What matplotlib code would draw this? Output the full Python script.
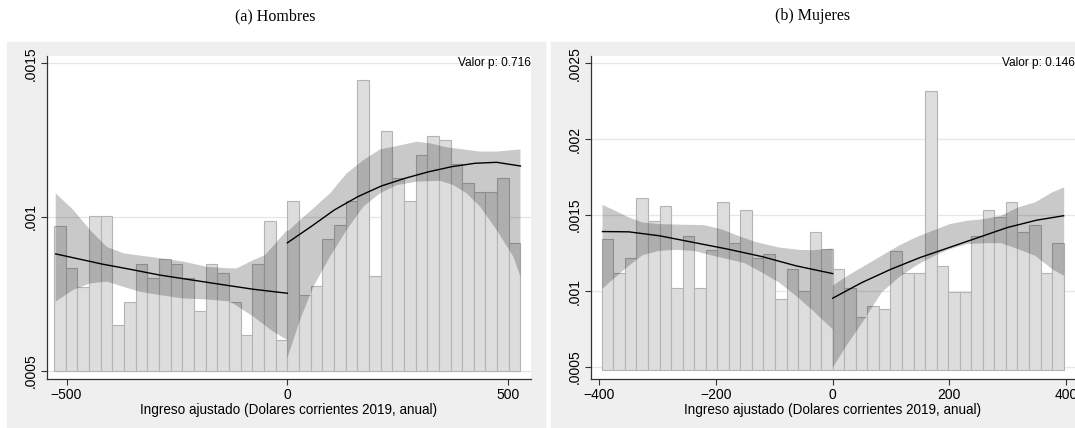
import numpy as np
import matplotlib.pyplot as plt
from matplotlib.patches import Rectangle

plt.rcParams['font.family'] = ['Liberation Sans', 'DejaVu Sans']

# ---- datos panel (a) Hombres ----
h_bin_inicio = -528
h_bin_ancho = 26.4
h_densidad = [0.000972, 0.000833, 0.000771, 0.001002, 0.001002, 0.000648, 0.000724,
              0.000848, 0.000802, 0.000863, 0.000848, 0.000802, 0.000694, 0.000848,
              0.000817, 0.000724, 0.000616, 0.000848, 0.000986, 0.000601,
              0.001051, 0.000745, 0.000777, 0.000928, 0.000975, 0.001051, 0.001447,
              0.000807, 0.001279, 0.001127, 0.001051, 0.001203, 0.001264, 0.00125,
              0.001171, 0.001112, 0.001081, 0.001081, 0.001127, 0.000914]

h_izq_x = [-524.5, -419.6, -356, -288.3, -156.2, -77, 0]
h_izq_y = [0.00088, 0.000847, 0.00083, 0.000811, 0.000782, 0.000765, 0.000752]
h_izq_sup_x = [-524.5, -484.5, -446.8, -409, -371.3, -341.1, -288.3, -235.4, -182.6,
               -129.8, -114.7, -76.9, -50.5, 0]
h_izq_sup_y = [0.001077, 0.001023, 0.000958, 0.000903, 0.000882, 0.000876, 0.000866,
               0.000855, 0.000838, 0.000833, 0.000833, 0.00086, 0.000876, 0.000958]
h_izq_inf_x = [-524.5, -484.5, -446.8, -409, -371.3, -333.6, -288.3, -235.4, -182.6,
               -129.8, -76.9, -31.7, 0]
h_izq_inf_y = [0.000725, 0.000763, 0.000784, 0.00079, 0.000773, 0.000757, 0.000746,
               0.000735, 0.000732, 0.000725, 0.000676, 0.000627, 0.0006]

h_der_x = [0, 52.9, 106.5, 159.3, 212.9, 266.5, 319.4, 373, 425.8, 474.2, 528]
h_der_y = [0.000916, 0.000968, 0.001023, 0.001066, 0.001101, 0.001126, 0.001147,
           0.001164, 0.001175, 0.001178, 0.001166]
h_der_sup_x = [0, 28.8, 58.9, 96.7, 134.4, 172.2, 209.9, 247.7, 293, 323.2, 360.9,
               398.6, 436.4, 474.1, 528]
h_der_sup_y = [0.000952, 0.00099, 0.001028, 0.001077, 0.001142, 0.001185, 0.00122,
               0.001231, 0.001245, 0.00124, 0.001227, 0.00122, 0.001213, 0.001213, 0.00122]
h_der_inf_x = [0, 28.8, 58.9, 96.7, 134.4, 172.2, 209.9, 247.7, 293, 345.8, 376,
               406.2, 436.4, 474.1, 511.9, 528]
h_der_inf_y = [0.00054, 0.000665, 0.000773, 0.000871, 0.000958, 0.001034, 0.001077,
               0.001104, 0.001115, 0.001118, 0.001104, 0.001077, 0.001034, 0.000958,
               0.000871, 0.000806]

# ---- datos panel (b) Mujeres ----
m_bin_inicio = -396
m_bin_ancho = 19.8
m_densidad = [0.001342, 0.001122, 0.001221, 0.00161, 0.001463, 0.001562, 0.001023,
              0.001364, 0.001023, 0.001271, 0.001584, 0.001315, 0.001535, 0.001221,
              0.001243, 0.000951, 0.001144, 0.001001, 0.00139, 0.00128,
              0.001144, 0.001023, 0.00083, 0.000902, 0.00088, 0.001265, 0.001122,
              0.001122, 0.002315, 0.001166, 0.000997, 0.000997, 0.001364, 0.001535,
              0.001485, 0.001584, 0.00139, 0.001438, 0.001122, 0.001315]

m_izq_x = [-394.8, -349.7, -297, -238.4, -179.8, -121.2, -62.7, 0]
m_izq_y = [0.001392, 0.00139, 0.001364, 0.00132, 0.001276, 0.001227, 0.001166, 0.001115]
m_izq_sup_x = [-394.8, -373.1, -349.7, -326.2, -297, -267.7, -220.8, -191.5, -162.2,
               -133, -92, -56.8, -33.4, 0]
m_izq_sup_y = [0.001568, 0.001529, 0.001485, 0.001452, 0.001441, 0.001438, 0.001434,
               0.001408, 0.001364, 0.001324, 0.001287, 0.001271, 0.001269, 0.00128]
m_izq_inf_x = [-394.8, -373.1, -349.7, -326.2, -297, -267.7, -238.4, -209.1, -179.8,
               -150.5, -121.2, -92, -62.7, -33.4, 0]
m_izq_inf_y = [0.001016, 0.001089, 0.001166, 0.001236, 0.001265, 0.001271, 0.001265,
               0.001236, 0.00121, 0.001183, 0.001122, 0.001056, 0.000968, 0.000869, 0.000748]

m_der_x = [0, 50, 100, 150, 200, 250, 300, 350, 396]
m_der_y = [0.000953, 0.001056, 0.001144, 0.001221, 0.001287, 0.001353, 0.001419,
           0.001467, 0.001496]
m_der_ci_x = [0, 25.2, 54.5, 83.8, 113, 142.3, 171.6, 200.9, 230.2, 259.5, 288.8,
              318, 347.3, 376.6, 397]
m_der_sup_y = [0.001034, 0.0011, 0.001166, 0.001232, 0.001298, 0.001353, 0.001397,
               0.001441, 0.001463, 0.001474, 0.001496, 0.001551, 0.001584, 0.00165, 0.001683]
m_der_inf_y = [0.000496, 0.000649, 0.000814, 0.00099, 0.001089, 0.001166, 0.001227,
               0.001276, 0.001309, 0.001315, 0.001315, 0.001276, 0.001232, 0.001144, 0.0011]

etiqueta_x = 'Ingreso ajustado (Dolares corrientes 2019, anual)'


def panel(ax, inicio, ancho, dens, base, tramos, yticks, ylab, xticks, xlim, ylim, pval):
    bordes = inicio + ancho * np.arange(len(dens))
    ax.bar(bordes, np.array(dens) - base, width=ancho, bottom=base, align='edge',
           color='#dddddd', edgecolor='#b4b4b4', linewidth=0.8, zorder=2)
    for (lx, ly, sx, sy, ix, iy) in tramos:
        px = list(sx) + list(ix)[::-1]
        py = list(sy) + list(iy)[::-1]
        ax.fill(px, py, color='black', alpha=0.21, lw=0, zorder=3)
        ax.plot(lx, ly, color='black', lw=1.0, zorder=4)
    ax.set_xlim(*xlim)
    ax.set_ylim(*ylim)
    ax.set_yticks(yticks)
    ax.set_yticklabels(ylab, rotation=90, va='center')
    ax.set_xticks(xticks)
    ax.grid(axis='y', color='#e6e6e6', lw=0.9, zorder=0)
    ax.set_axisbelow(True)
    for s in ['top', 'right']:
        ax.spines[s].set_visible(False)
    for s in ['left', 'bottom']:
        ax.spines[s].set_color('#333333')
        ax.spines[s].set_linewidth(0.9)
    ax.tick_params(direction='out', length=4.5, width=0.8, color='#333333',
                   labelsize=10, pad=2)
    ax.set_xlabel(etiqueta_x, fontsize=9.75, labelpad=1)
    ax.text(1.0, yticks[-1], 'Valor p: ' + pval, transform=ax.get_yaxis_transform(),
            ha='right', va='center', fontsize=8.6, zorder=5)


fig = plt.figure(figsize=(10.75, 4.28), dpi=100)
fig.add_artist(Rectangle((0.0062, 0), 0.5008, 0.9019, transform=fig.transFigure,
                         color='#efefef', zorder=-5))
fig.add_artist(Rectangle((0.5126, 0), 0.4874, 0.9019, transform=fig.transFigure,
                         color='#efefef', zorder=-5))

ax1 = fig.add_axes([0.0434, 0.1145, 0.4502, 0.7547])
ax2 = fig.add_axes([0.5495, 0.1145, 0.4502, 0.7547])

panel(ax1, h_bin_inicio, h_bin_ancho, h_densidad, 0.0005,
      [(h_izq_x, h_izq_y, h_izq_sup_x, h_izq_sup_y, h_izq_inf_x, h_izq_inf_y),
       (h_der_x, h_der_y, h_der_sup_x, h_der_sup_y, h_der_inf_x, h_der_inf_y)],
      [0.0005, 0.001, 0.0015], ['.0005', '.001', '.0015'],
      [-500, 0, 500], (-545, 551), (0.000473, 0.001524), '0.716')

panel(ax2, m_bin_inicio, m_bin_ancho, m_densidad, 0.00048,
      [(m_izq_x, m_izq_y, m_izq_sup_x, m_izq_sup_y, m_izq_inf_x, m_izq_inf_y),
       (m_der_x, m_der_y, m_der_ci_x, m_der_sup_y, m_der_ci_x, m_der_inf_y)],
      [0.0005, 0.001, 0.0015, 0.002, 0.0025], ['.0005', '.001', '.0015', '.002', '.0025'],
      [-400, -200, 0, 200, 400], (-415, 415), (0.000421, 0.002548), '0.146')

fig.text(275 / 1075, 1 - 16 / 428, '(a) Hombres', ha='center', va='center',
         family='Liberation Serif', fontsize=11.5)
fig.text(813 / 1075, 1 - 16 / 428, '(b) Mujeres', ha='center', va='center',
         family='Liberation Serif', fontsize=11.5)

fig.savefig('out.png', dpi=100, facecolor='white')
